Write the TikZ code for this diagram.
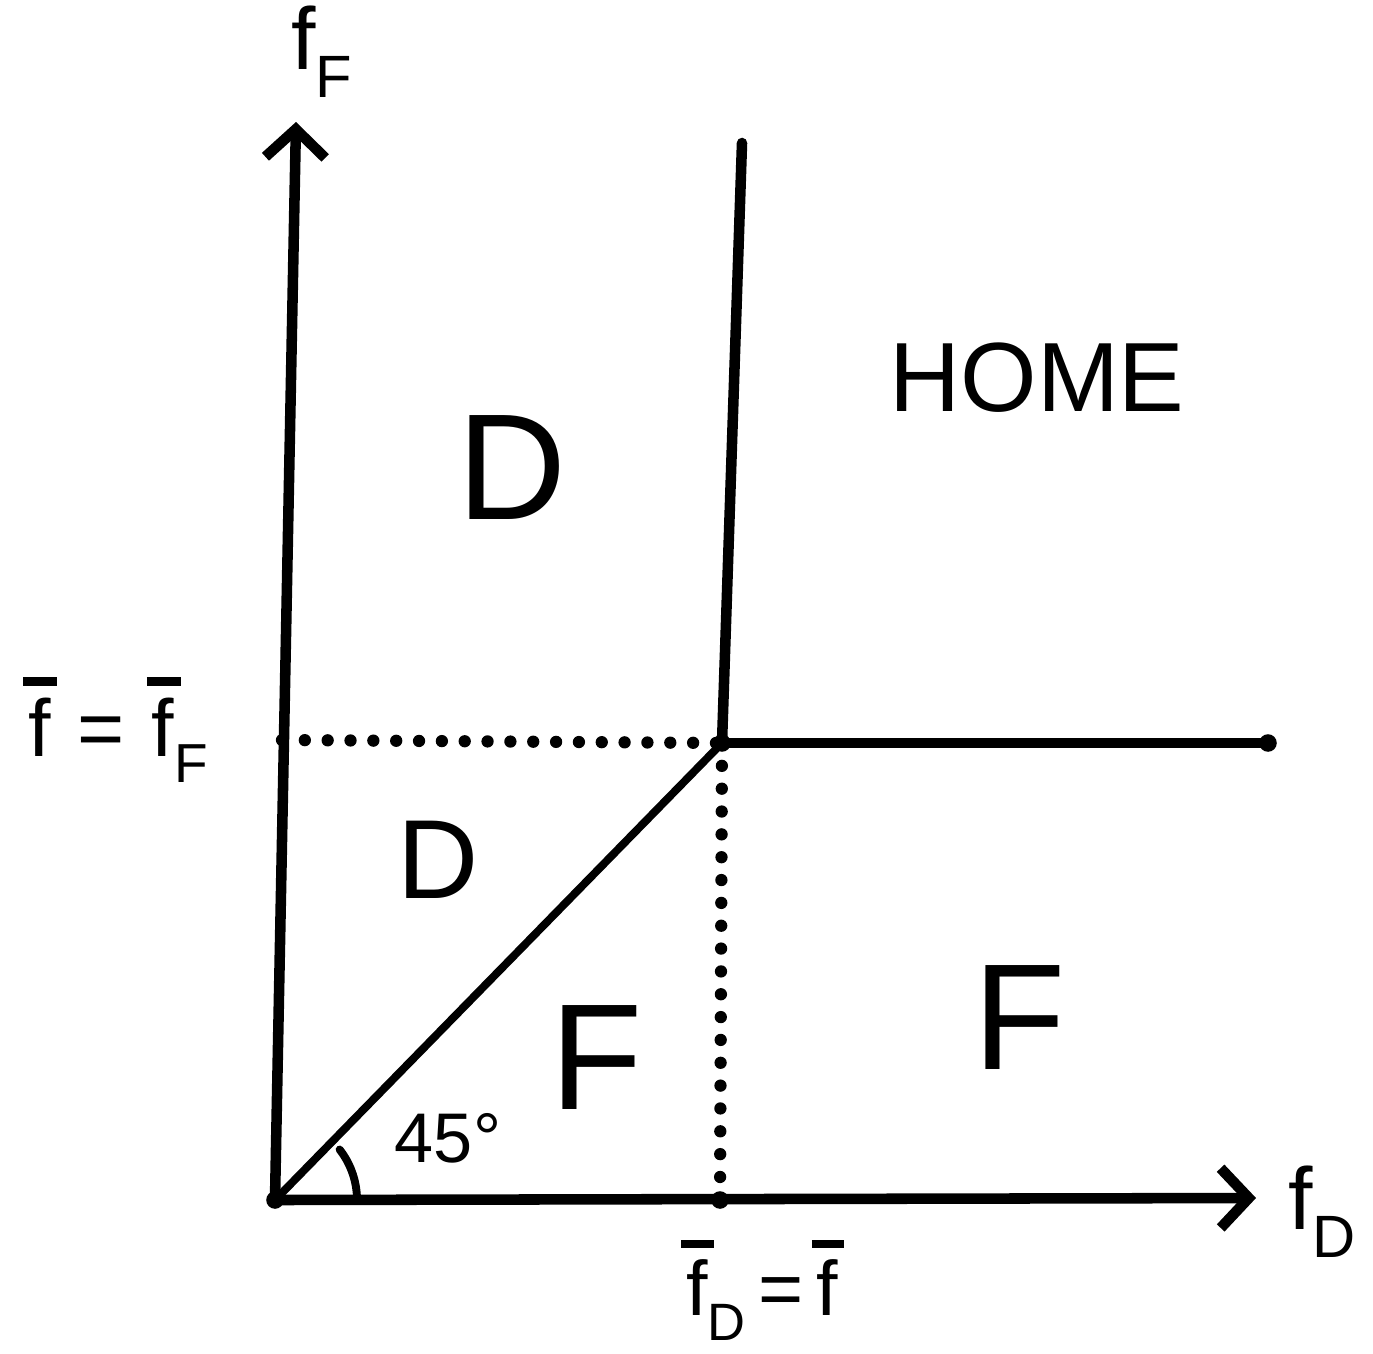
\documentclass[tikz,border=0pt]{standalone}
\usepackage{fontspec}
\setmainfont{Liberation Sans}
\setsansfont{Liberation Sans}
\usetikzlibrary{arrows.meta}
\newcommand{\fbar}{\makebox[0pt][l]{\hspace{-0.06em}\raisebox{0.88em}{\rule{0.42em}{0.1em}}}f}
\newcommand{\lowsub}[1]{\raisebox{-0.32em}{\scalebox{0.68}{#1}}}
\begin{document}
\begin{tikzpicture}[x=0.02cm,y=-0.02cm,
  axis/.style={line width=6pt,line cap=round,-{Straight Barb[length=16pt,width=34pt]}},
  thick line/.style={line width=6pt,line cap=round},
  diag line/.style={line width=4.5pt,line cap=round},
  dotline/.style={line width=7pt,line cap=round,dash pattern=on 0pt off 13pt},
  enddot/.style={circle,fill=black,inner sep=0pt,minimum size=10pt},
  region/.style={font=\fontsize{86}{90}\selectfont},
  lbl/.style={font=\fontsize{50}{54}\selectfont,inner sep=0pt}]
\useasboundingbox[fill=white] (0,0) rectangle (1373,1353);
% key points
\coordinate (O) at (275,1200);
\coordinate (Ytop) at (296,122);
\coordinate (Xend) at (1256,1198);
\coordinate (K) at (722,743);
\coordinate (Vtop) at (742,143);
\coordinate (Hend) at (1268,743);
\coordinate (Dl) at (282,740);
\coordinate (Db) at (720,1200);
% axes
\draw[axis] (O) -- (Ytop);
\draw[axis] (O) -- (Xend);
% boundaries
\draw[thick line] (K) -- (Vtop);
\draw[thick line] (K) -- (Hend);
\draw[diag line] (O) -- (K);
% dotted guides
\draw[dotline] (Dl) -- (K);
\draw[dotline] (K) -- (Db);
% dots
\node[enddot] (dH) at (Hend) {};
\node[enddot] (dB) at (Db) {};
\node[enddot] (dO) at (O) {};
\node[enddot] (dK) at (K) {};
% angle mark
\draw[line width=4.5pt,line cap=round] (O) ++(-38:82) arc (-38:-3:82);
% labels
\node[lbl] (fF) at (322,52) {f\lowsub{F}};
\node[lbl] (fD) at (1322,1212) {f\lowsub{D}};
\node[lbl,font=\fontsize{46}{50}\selectfont] (fbarF) at (118,730) {\fbar\,\,=\,\,\fbar\lowsub{F}};
\node[lbl,font=\fontsize{44}{48}\selectfont] (fbarD) at (762,1290) {\fbar\lowsub{D}\,=\,\fbar};
\node[font=\fontsize{56}{60}\selectfont] (home) at (1037,378) {HOME};
\node[region] (D1) at (512,468) {D};
\node[region,font=\fontsize{64}{68}\selectfont] (D2) at (438,860) {D};
\node[region] (F1) at (597,1058) {F};
\node[region] (F2) at (1020,1018) {F};
\node[font=\fontsize{40}{44}\selectfont] (ang) at (448,1138) {45°};
\end{tikzpicture}
\end{document}
